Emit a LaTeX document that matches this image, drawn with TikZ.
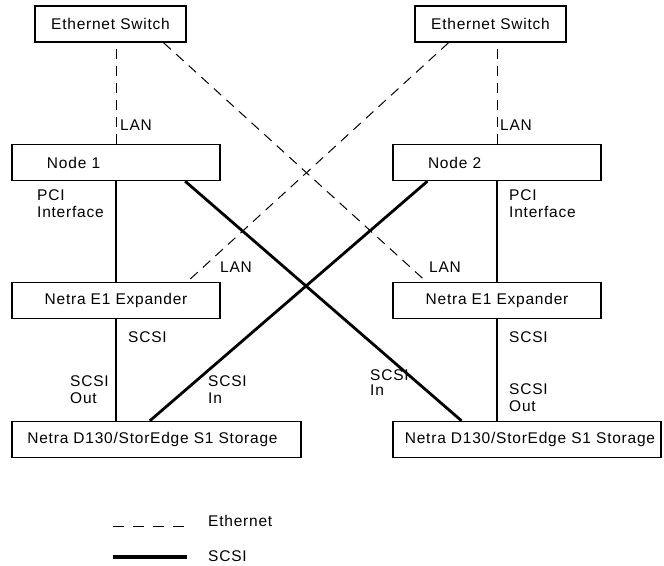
\documentclass[tikz,border=0pt]{standalone}
\usepackage{fontspec}
\setmainfont[LetterSpace=5]{Liberation Sans}
\usetikzlibrary{calc}
\begin{document}
\begin{tikzpicture}[x=1pt,y=-1pt,
  font=\fontsize{15.5}{17}\selectfont,
  box/.style={draw,line width=1.4pt,minimum height=36pt,inner sep=0pt},
  lbl/.style={inner sep=0pt,align=left},
  eth/.style={line width=1pt,dash pattern=on 10pt off 7pt},
  thin/.style={line width=1.1pt},
  scsi/.style={line width=2.8pt}]
\useasboundingbox (0,0) rectangle (664,565);
% boxes
\node[box,minimum width=151pt] (sw1) at (110.5,24) {Ethernet Switch};
\node[box,minimum width=151pt] (sw2) at (490.5,24) {Ethernet Switch};
\node[box,minimum width=208pt,text width=208pt,align=left] (n1) at (116,162.5) {\hspace*{35pt}Node 1};
\node[box,minimum width=208pt,text width=208pt,align=left] (n2) at (497,162.5) {\hspace*{35pt}Node 2};
\node[box,minimum width=208pt] (ex1) at (116,300.5) {Netra E1 Expander};
\node[box,minimum width=208pt] (ex2) at (497,300.5) {Netra E1 Expander};
\node[box,minimum width=289pt] (st1) at (156.5,439.5) {Netra D130/StorEdge S1 Storage\hspace*{8pt}};
\node[box,minimum width=268pt] (st2) at (527,439.5) {\hspace*{6pt}Netra D130/StorEdge S1 Storage};
% ethernet
\draw[eth] (n1.north) -- (n1.north |- sw1.south);
\draw[eth] (n2.north) -- (n2.north |- sw2.south);
\draw[eth] ($(sw1.south west)!0.848!(sw1.south east)$) -- ($(ex2.north west)!0.163!(ex2.north east)$);
\draw[eth] ($(sw2.south west)!0.225!(sw2.south east)$) -- ($(ex1.north west)!0.84!(ex1.north east)$);
% PCI
\draw[thin] (n1.south) -- (ex1.north);
\draw[thin] (n2.south) -- (ex2.north);
% SCSI
\draw[scsi] (ex1.south) -- (ex1.south |- st1.north);
\draw[scsi] (ex2.south) -- (ex2.south |- st2.north);
\draw[scsi] ($(n1.south west)!0.83!(n1.south east)$) -- ($(st2.north west)!0.257!(st2.north east)$);
\draw[scsi] ($(n2.south west)!0.168!(n2.south east)$) -- ($(st1.north west)!0.477!(st1.north east)$);
% labels
\node[lbl,anchor=west] (lan1) at (120,125) {LAN};
\node[lbl,anchor=west] (lan2) at (500,125) {LAN};
\node[lbl,anchor=north west] (pci1) at (37,189) {PCI\\Interface};
\node[lbl,anchor=north west] (pci2) at (509,189) {PCI\\Interface};
\node[lbl,anchor=west] (lan3) at (220,267) {LAN};
\node[lbl,anchor=west] (lan4) at (429,267) {LAN};
\node[lbl,anchor=west] (sc1) at (128,337) {SCSI};
\node[lbl,anchor=west] (sc2) at (509,337) {SCSI};
\node[lbl,anchor=north west] (out1) at (70,375) {SCSI\\Out};
\node[lbl,anchor=north west] (out2) at (509,383) {SCSI\\Out};
\node[lbl,anchor=north west] (in1) at (208,375) {SCSI\\In};
\node[lbl,anchor=north west,font=\fontsize{15.5}{15}\selectfont] (in2) at (370,369) {SCSI\\In};
% legend
\coordinate (le1) at (113,526);
\coordinate (le2) at (187,526);
\coordinate (ls1) at (113,557);
\coordinate (ls2) at (187,557);
\draw[eth,dash pattern=on 11pt off 9pt] (le1) -- (le2);
\draw[scsi,line width=3.2pt] (ls1) -- (ls2);
\node[lbl,anchor=west] (leth) at (208,521) {Ethernet};
\node[lbl,anchor=west] (lscsi) at (208,556) {SCSI};
\end{tikzpicture}
\end{document}
